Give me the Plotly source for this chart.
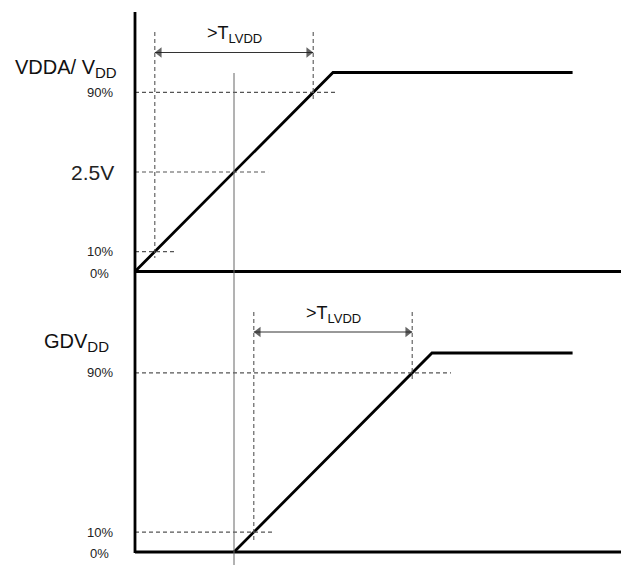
import plotly.graph_objects as go

# ---------------- data (time in ramp-duration units, level as fraction) -------------
vdd_t = [0.0, 1.0, 2.21]          # VDDA / VDD ramp: start, reach 100 %, end of drawing
vdd_v = [0.0, 1.0, 1.0]
gdv_t = [0.5, 1.5, 2.21]          # GDVDD ramp
gdv_v = [0.0, 1.0, 1.0]

top_levels = [0.9, 0.5, 0.1, 0.0]
top_level_labels = ["90%", "2.5V", "10%", "0%"]
top_level_ends = [1.025, 0.672, 0.212, None]     # where the dashed guide stops

bot_levels = [0.9, 0.1, 0.0]
bot_level_labels = ["90%", "10%", "0%"]
bot_level_ends = [1.596, 0.707, None]

top_t10, top_t90 = 0.1, 0.9
bot_t10, bot_t90 = 0.6, 1.4
t_25v = 0.5
arrow_label = '>T<sub><span style="font-size:13px">LVDD</span></sub>'
top_name = 'VDDA/ V<sub><span style="font-size:15px">DD</span></sub>'
bot_name = 'GDV<sub><span style="font-size:15px">DD</span></sub>'

# ---------------- layout geometry ----------------
W, H = 621, 565
X0, SX = 135, 198           # pixel of t=0, pixels per time unit
SY = 199                    # pixels per level unit
TOP_BASE, BOT_BASE = 271.5, 552
SPLIT = 290                 # pixel row dividing the two panels


def tx(px):
    return (px - X0) / SX


def ty_top(py):
    return (TOP_BASE - py) / SY


def ty_bot(py):
    return (BOT_BASE - py) / SY


def paper_y(py):
    return 1 - py / H


FONT = "Liberation Sans, Arial, sans-serif"
THICK = dict(color="black", width=2.8)
DASH = dict(color="#555555", width=1.1, dash="4px,3px")

fig = go.Figure()

# signals
fig.add_trace(go.Scatter(x=vdd_t, y=vdd_v, mode="lines", line=THICK, xaxis="x", yaxis="y"))
fig.add_trace(go.Scatter(x=gdv_t, y=gdv_v, mode="lines", line=THICK, xaxis="x2", yaxis="y2"))

# baselines
fig.add_trace(go.Scatter(x=[0, tx(W + 5)], y=[0, 0], mode="lines", line=THICK, xaxis="x", yaxis="y"))
fig.add_trace(go.Scatter(x=[0, tx(W + 5)], y=[0, 0], mode="lines", line=THICK, xaxis="x2", yaxis="y2"))

# dashed horizontal guides
for lv, end in zip(top_levels, top_level_ends):
    if end is not None:
        fig.add_trace(go.Scatter(x=[0, end], y=[lv, lv], mode="lines", line=DASH, xaxis="x", yaxis="y"))
for lv, end in zip(bot_levels, bot_level_ends):
    if end is not None:
        fig.add_trace(go.Scatter(x=[0, end], y=[lv, lv], mode="lines", line=DASH, xaxis="x2", yaxis="y2"))

# dashed vertical guides
fig.add_trace(go.Scatter(x=[top_t10, top_t10], y=[ty_top(32), ty_top(258)], mode="lines", line=DASH, xaxis="x", yaxis="y"))
fig.add_trace(go.Scatter(x=[top_t90, top_t90], y=[ty_top(32), ty_top(100)], mode="lines", line=DASH, xaxis="x", yaxis="y"))
fig.add_trace(go.Scatter(x=[bot_t10, bot_t10], y=[ty_bot(312), ty_bot(540)], mode="lines", line=DASH, xaxis="x2", yaxis="y2"))
fig.add_trace(go.Scatter(x=[bot_t90, bot_t90], y=[ty_bot(312), ty_bot(380)], mode="lines", line=DASH, xaxis="x2", yaxis="y2"))

# double-headed arrows (line + triangle heads whose tips touch the dashed guides)
HEAD_OFF = 4.5 / SX
for (t1, t2, yv, xa, ya) in [(top_t10, top_t90, ty_top(52.5), "x", "y"),
                             (bot_t10, bot_t90, ty_bot(332), "x2", "y2")]:
    fig.add_trace(go.Scatter(x=[t1, t2], y=[yv, yv], mode="lines",
                             line=dict(color="#333333", width=1), xaxis=xa, yaxis=ya))
    fig.add_trace(go.Scatter(x=[t1 + HEAD_OFF, t2 - HEAD_OFF], y=[yv, yv], mode="markers",
                             marker=dict(symbol=["triangle-left", "triangle-right"], size=[9, 9],
                                         color="#222222", line=dict(width=0)),
                             xaxis=xa, yaxis=ya))

shapes = [
    # left vertical axis spanning both panels
    dict(type="line", xref="x", yref="paper", x0=0, x1=0, y0=paper_y(BOT_BASE + 1), y1=paper_y(12),
         line=dict(color="black", width=2.8)),
    # thin reference line at 2.5 V crossing
    dict(type="line", xref="x", yref="paper", x0=t_25v, x1=t_25v, y0=0, y1=paper_y(73),
         line=dict(color="#666666", width=1)),
]

annotations = []
annotations.append(dict(x=(top_t10 + top_t90) / 2, y=ty_top(34), xref="x", yref="y", text=arrow_label,
                        showarrow=False, font=dict(size=18, family=FONT, color="#111111")))
annotations.append(dict(x=(bot_t10 + bot_t90) / 2, y=ty_bot(314), xref="x2", yref="y2", text=arrow_label,
                        showarrow=False, font=dict(size=18, family=FONT, color="#111111")))

# left labels
annotations.append(dict(x=119 / W, y=ty_top(68), xref="paper", yref="y", text=top_name, xanchor="right",
                        showarrow=False, font=dict(size=20, family=FONT, color="#111111")))
annotations.append(dict(x=111 / W, y=ty_bot(342), xref="paper", yref="y2", text=bot_name, xanchor="right",
                        showarrow=False, font=dict(size=20, family=FONT, color="#111111")))
for lv, lab in zip(top_levels, top_level_labels):
    big = lab == "2.5V"
    right = 116 if big else (111 if lab == "0%" else 115)
    yy = lv if lv > 0 else ty_top(273)
    annotations.append(dict(x=right / W, y=yy, xref="paper", yref="y", text=lab, xanchor="right",
                            showarrow=False,
                            font=dict(size=21 if big else 13, family=FONT, color="#222222")))
for lv, lab in zip(bot_levels, bot_level_labels):
    right = 111 if lab == "0%" else 115
    yy = lv if lv > 0 else ty_bot(553)
    annotations.append(dict(x=right / W, y=yy, xref="paper", yref="y2", text=lab, xanchor="right",
                            showarrow=False, font=dict(size=13, family=FONT, color="#222222")))

hidden = dict(visible=False, showgrid=False, zeroline=False, fixedrange=True)
fig.update_layout(
    width=W, height=H,
    margin=dict(l=0, r=0, t=0, b=0),
    paper_bgcolor="white", plot_bgcolor="white",
    showlegend=False,
    font=dict(family=FONT),
    xaxis=dict(range=[tx(0), tx(W)], domain=[0, 1], anchor="y", **hidden),
    xaxis2=dict(range=[tx(0), tx(W)], domain=[0, 1], anchor="y2", matches="x", **hidden),
    yaxis=dict(range=[ty_top(SPLIT), ty_top(0)], domain=[paper_y(SPLIT), 1], anchor="x", **hidden),
    yaxis2=dict(range=[ty_bot(H), ty_bot(SPLIT)], domain=[0, paper_y(SPLIT)], anchor="x2", **hidden),
    shapes=shapes,
    annotations=annotations,
)

fig.write_html(
    "out.html",
    config={"displayModeBar": False},
    post_script="document.body.style.margin='0px';document.body.style.overflow='hidden';",
)
